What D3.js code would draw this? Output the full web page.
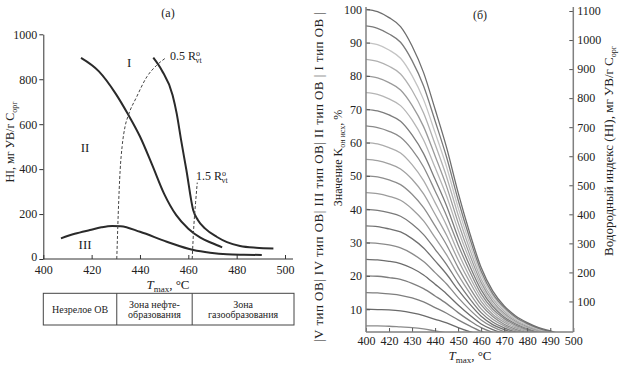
<!DOCTYPE html>
<html>
<head>
<meta charset="utf-8">
<script src="https://cdn.jsdelivr.net/npm/d3@7"></script>
<style>
  body { margin: 0; background: #fff; }
  svg { display: block; font-family: "Liberation Serif", "DejaVu Serif", serif; }
  svg text { font-family: "Liberation Serif", "DejaVu Serif", serif; }
</style>
</head>
<body>
<svg id="chart" width="621" height="367"></svg>
<script>
// ---- panel (a): HI vs Tmax ----
const xTicksL = [400, 420, 440, 460, 480, 500];
const yTicksL = [0, 200, 400, 600, 800, 1000];

// [Tmax, HI]
const curveI = [[445.5, 896], [449, 840], [453.5, 729], [455.2, 647], [457, 530], [459.2, 396],
  [462, 218], [464, 173], [467, 135], [471.7, 99], [476, 75], [481.4, 58], [488, 50], [495.2, 47]];
const curveII = [[415.6, 895], [423, 835], [430, 735], [435, 645], [440, 545], [445, 420],
  [450, 290], [455, 195], [460, 135], [465, 95], [470, 70], [474, 52]];
const curveIII = [[407.3, 92], [413, 112], [419.3, 129], [424, 141], [428.5, 147], [432, 146],
  [440, 121], [451.1, 77], [462.1, 40], [469, 28], [475.9, 21], [483, 19], [490.4, 18]];
const dash05 = [[430.4, 0], [431, 200], [431.8, 396], [432.6, 500], [433.8, 588], [435.2, 640],
  [438.6, 721], [442.8, 810], [446.9, 862], [450.8, 896]];
const dash15 = [[461.6, 0], [462.3, 150], [463, 250], [463.7, 340]];

const zones = [["Незрелое ОВ"], ["Зона нефте-", "образования"], ["Зона", "газообразования"]];

// ---- panel (б): K vs Tmax ----
const xTicksR = [410, 420, 430, 440, 450, 460, 470, 480, 490, 500];
const xLabelsR = ["400", "420", "430", "440", "450", "460", "470", "480", "490", "500"];
const yTicksR = [10, 20, 30, 40, 50, 60, 70, 80, 90, 100];
const hiTicksR = [100, 200, 300, 400, 500, 600, 700, 800, 900, 1000, 1100];

const tGrid = [410, 415, 420, 425, 430, 435, 440, 445, 450, 455, 460, 465, 470, 475, 480, 485, 490, 495, 500];
const k100 = [100, 99.3, 97.5, 94.8, 89, 81, 70, 58.5, 45, 33, 22.5, 15.5, 11, 8, 6, 4.5, 3.5, 2.5, 2];
const k95 = [95, 94.3, 92.6, 90.1, 84.6, 77, 66.5, 55.6, 42.8, 31.4, 21.4, 14.7, 10.5, 7.6, 5.7, 4.3, 3.3, 2.4, 1.9];
const k90 = [90, 89.4, 87.8, 85.3, 80.1, 72.9, 63, 52.7, 40.5, 29.7, 20.3, 14, 9.9, 7.2, 5.4, 4.1, 3.2, 2.3, 1.8];
const k85 = [85, 84.4, 82.9, 80.6, 75.7, 68.9, 59.5, 49.7, 38.3, 28.1, 19.1, 13.2, 9.4, 6.8, 5.1, 3.8, 3, 2.1, 1.7];
const k80 = [80, 79.4, 78, 75.8, 71.2, 64.8, 56, 46.8, 36, 26.4, 18, 12.4, 8.8, 6.4, 4.8, 3.6, 2.8, 2, 1.6];
const k75 = [75, 74.5, 73.1, 71.1, 66.8, 60.8, 52.5, 43.9, 33.8, 24.8, 16.9, 11.6, 8.3, 6, 4.5, 3.4, 2.6, 1.9, 1.5];
const k70 = [70, 69.5, 68.3, 66.4, 62.3, 56.7, 49, 41, 31.5, 23.1, 15.8, 10.9, 7.7, 5.6, 4.2, 3.2, 2.5, 1.8, 1.4];
const k65 = [65, 64.5, 63.4, 61.6, 57.9, 52.7, 45.5, 38, 29.3, 21.5, 14.6, 10.1, 7.2, 5.2, 3.9, 2.9, 2.3, 1.6, 1.3];
const k60 = [60, 59.6, 58.5, 56.9, 53.4, 48.6, 42, 35.1, 27, 19.8, 13.5, 9.3, 6.6, 4.8, 3.6, 2.7, 2.1, 1.5, 1.2];
const k55 = [55, 54.6, 53.6, 52.1, 49, 44.6, 38.5, 32.2, 24.8, 18.2, 12.4, 8.5, 6.1, 4.4, 3.3, 2.5, 1.9, 1.4, 1.1];
const k50 = [50, 49.7, 48.8, 47.4, 44.5, 40.5, 35, 29.3, 22.5, 16.5, 11.3, 7.8, 5.5, 4, 3, 2.3, 1.8, 1.3, 1];
const k45 = [45, 44.7, 43.9, 42.7, 40.1, 36.5, 31.5, 26.3, 20.3, 14.9, 10.1, 7, 5, 3.6, 2.7, 2, 1.6, 1.1, 0.9];
const k40 = [40, 39.7, 39, 37.9, 35.6, 32.4, 28, 23.4, 18, 13.2, 9, 6.2, 4.4, 3.2, 2.4, 1.8, 1.4, 1, 0.8];
const k35 = [35, 34.8, 34.1, 33.2, 31.2, 28.4, 24.5, 20.5, 15.8, 11.6, 7.9, 5.4, 3.9, 2.8, 2.1, 1.6, 1.2, 0.9, 0.7];
const k30 = [30, 29.8, 29.3, 28.4, 26.7, 24.3, 21, 17.6, 13.5, 9.9, 6.8, 4.7, 3.3, 2.4, 1.8, 1.4, 1.1, 0.8, 0.6];
const k25 = [25, 24.8, 24.4, 23.7, 22.3, 20.3, 17.5, 14.6, 11.3, 8.3, 5.6, 3.9, 2.8, 2, 1.5, 1.1, 0.9, 0.6, 0.5];
const k20 = [20, 19.9, 19.5, 19, 17.8, 16.2, 14, 11.7, 9, 6.6, 4.5, 3.1, 2.2, 1.6, 1.2, 0.9, 0.7, 0.5, 0.4];
const k15 = [15, 14.9, 14.6, 14.2, 13.4, 12.2, 10.5, 8.8, 6.8, 5, 3.4, 2.3, 1.7, 1.2, 0.9, 0.7, 0.5, 0.4, 0.3];
const k10 = [10, 9.9, 9.8, 9.5, 8.9, 8.1, 7, 5.9, 4.5, 3.3, 2.3, 1.6, 1.1, 0.8, 0.6, 0.5, 0.4, 0.3, 0.2];
const k5 = [5, 5, 4.9, 4.7, 4.5, 4.1, 3.5, 2.9, 2.3, 1.7, 1.1, 0.8, 0.6, 0.4, 0.3, 0.2, 0.2, 0.1, 0.1];

const kSeries = [k5, k10, k15, k20, k25, k30, k35, k40, k45, k50, k55, k60, k65, k70, k75, k80, k85, k90, k95, k100];
const kGrays = ["#8a8a8a", "#6a6a6a", "#7e7e7e", "#7e7e7e", "#6c6c6c", "#8a8a8a", "#707070", "#7a7a7a", "#9c9c9c", "#8c8c8c",
  "#a0a0a0", "#acacac", "#8a8a8a", "#7c7c7c", "#b5b5b5", "#9a9a9a", "#b0b0b0", "#c4c4c4", "#7a7a7a", "#6e6e6e"];

const svg = d3.select("#chart");
const ink = "#222";
const serif = "Liberation Serif, DejaVu Serif, serif";

function styleTicks(g) {
  g.attr("font-family", serif);
  g.selectAll(".tick text").attr("font-size", 12).attr("fill", ink).style("font-family", serif);
}

// ================= panel (a) =================
const xL = d3.scaleLinear().domain([400, 500]).range([43.3, 285]);
const yL = d3.scaleLinear().domain([0, 1000]).range([259, 34.3]);
const gA = svg.append("g");

gA.append("g")
  .attr("transform", `translate(0,${yL(0)})`)
  .call(d3.axisBottom(xL).tickValues(xTicksL).tickFormat(d3.format("d"))
    .tickSizeInner(-4).tickSizeOuter(0).tickPadding(6))
  .call(g => g.select(".domain").remove())
  .call(styleTicks);
gA.append("line")
  .attr("x1", xL(400)).attr("x2", 293).attr("y1", yL(0)).attr("y2", yL(0));

gA.append("g")
  .attr("transform", `translate(${xL(400)},0)`)
  .call(d3.axisLeft(yL).tickValues(yTicksL).tickFormat(d3.format("d"))
    .tickSizeInner(4).tickSizeOuter(0).tickPadding(2))
  .call(styleTicks)
  .call(g => g.selectAll(".tick text").filter(d => d === 0).attr("dy", "0.15em"));

gA.selectAll("line, path").attr("stroke", "#333").attr("stroke-width", 1);

const lineL = d3.line().x(d => xL(d[0])).y(d => yL(d[1])).curve(d3.curveMonotoneX);

[curveI, curveII, curveIII].forEach(c => {
  gA.append("path").attr("d", lineL(c))
    .attr("fill", "none").attr("stroke", "#2a2a2a").attr("stroke-width", 2);
});
[dash05, dash15].forEach(c => {
  gA.append("path").attr("d", lineL(c))
    .attr("fill", "none").attr("stroke", "#444").attr("stroke-width", 1)
    .attr("stroke-dasharray", "3,2");
});

// region labels
[["I", 435.5, 853], ["II", 417.3, 476], ["III", 417.3, 44]].forEach(([t, x, y]) => {
  gA.append("text").attr("x", xL(x)).attr("y", yL(y)).attr("text-anchor", "middle")
    .attr("font-size", 13).attr("fill", ink).text(t);
});

function roLabel(g, x, y, num) {
  const t = g.append("text").attr("x", x).attr("y", y).attr("font-size", 12).attr("fill", ink);
  t.append("tspan").text(num + " R");
  t.append("tspan").attr("dy", -4).attr("font-size", 8).text("o");
  t.append("tspan").attr("dx", -4.5).attr("dy", 7).attr("font-size", 8).text("vt");
}
roLabel(gA, 170, 60, "0.5");
roLabel(gA, 196, 180, "1.5");

gA.append("text").attr("x", 168).attr("y", 17).attr("text-anchor", "middle")
  .attr("font-size", 12).attr("fill", ink).text("(a)");

// x title
const xtA = gA.append("text").attr("x", 168).attr("y", 289).attr("text-anchor", "middle")
  .attr("font-size", 13).attr("fill", ink);
xtA.append("tspan").attr("font-style", "italic").text("T");
xtA.append("tspan").attr("font-size", 9).attr("dy", 3).text("max");
xtA.append("tspan").attr("dy", -3).text(", °C");

// y title
const ytA = gA.append("text").attr("transform", "translate(14,142) rotate(-90)")
  .attr("text-anchor", "middle").attr("font-size", 12).attr("fill", ink);
ytA.append("tspan").text("HI, мг УВ/г C");
ytA.append("tspan").attr("font-size", 8).attr("dy", 3).text("орг");

// zone table
const tabEdges = [xL(400), xL(dash05[0][0]), xL(dash15[0][0]), 294];
const tabTop = 293.3, tabBot = 325;
gA.append("rect").attr("x", tabEdges[0]).attr("y", tabTop)
  .attr("width", tabEdges[3] - tabEdges[0]).attr("height", tabBot - tabTop)
  .attr("fill", "none").attr("stroke", "#444").attr("stroke-width", 1);
[tabEdges[1], tabEdges[2]].forEach(x => {
  gA.append("line").attr("x1", x).attr("x2", x).attr("y1", tabTop).attr("y2", tabBot)
    .attr("stroke", "#444").attr("stroke-width", 1);
});
zones.forEach((lines, i) => {
  const cx = (tabEdges[i] + tabEdges[i + 1]) / 2;
  const cy = (tabTop + tabBot) / 2;
  lines.forEach((s, j) => {
    gA.append("text").attr("x", cx).attr("y", cy + 3.5 + (j - (lines.length - 1) / 2) * 10)
      .attr("text-anchor", "middle").attr("font-size", 10).attr("fill", ink).text(s);
  });
});

// ================= panel (б) =================
const xR = d3.scaleLinear().domain([410, 500]).range([366, 573.3]);
const yR = d3.scaleLinear().domain([0, 100]).range([342.6, 9.3]);
const yH = d3.scaleLinear().domain([0, 1100]).range([330.5, 11]);
const axisBot = 332, axisTop = 7;
const gB = svg.append("g");
const axisGray = "#808080";

svg.append("defs").append("clipPath").attr("id", "clipR")
  .append("rect").attr("x", xR(410)).attr("y", axisTop)
  .attr("width", xR(500) - xR(410)).attr("height", axisBot - axisTop);

const lineR = d3.line().x((d, i) => xR(tGrid[i])).y(d => yR(d)).curve(d3.curveMonotoneX);
gB.append("g").attr("clip-path", "url(#clipR)")
  .selectAll("path").data(kSeries).join("path")
  .attr("d", lineR)
  .attr("fill", "none")
  .attr("stroke", (d, i) => kGrays[i])
  .attr("stroke-width", 1.3);

gB.append("g")
  .attr("transform", `translate(0,${axisBot})`)
  .call(d3.axisBottom(xR).tickValues(xTicksR).tickFormat((d, i) => xLabelsR[i])
    .tickSizeInner(-4).tickSizeOuter(0).tickPadding(4))
  .call(styleTicks);
gB.append("g")
  .attr("transform", `translate(${xR(410)},0)`)
  .call(d3.axisLeft(yR).tickValues(yTicksR).tickFormat(d3.format("d"))
    .tickSizeInner(-4).tickSizeOuter(0).tickPadding(4))
  .call(styleTicks);
gB.append("g")
  .attr("transform", `translate(${xR(500)},0)`)
  .call(d3.axisRight(yH).tickValues(hiTicksR).tickFormat(d3.format("d"))
    .tickSizeInner(-4).tickSizeOuter(0).tickPadding(4))
  .call(styleTicks);
gB.selectAll(".domain").remove();

[[xR(410), axisBot, xR(500), axisBot], [xR(410), axisBot, xR(410), axisTop], [xR(500), axisBot, xR(500), axisTop]]
  .forEach(([x1, y1, x2, y2]) => {
    gB.append("line").attr("x1", x1).attr("y1", y1).attr("x2", x2).attr("y2", y2)
      .attr("stroke", axisGray).attr("stroke-width", 1.5);
  });
gB.selectAll(".tick line").attr("stroke", "#555").attr("stroke-width", 1);

gB.append("text").attr("x", 480).attr("y", 19).attr("text-anchor", "middle")
  .attr("font-size", 12).attr("fill", ink).text("(б)");

const xtB = gB.append("text").attr("x", 470).attr("y", 360).attr("text-anchor", "middle")
  .attr("font-size", 13).attr("fill", ink);
xtB.append("tspan").attr("font-style", "italic").text("T");
xtB.append("tspan").attr("font-size", 9).attr("dy", 3).text("max");
xtB.append("tspan").attr("dy", -3).text(", °C");

gB.append("text").attr("transform", "translate(323,177) rotate(-90)")
  .attr("text-anchor", "middle").attr("font-size", 13).attr("fill", ink)
  .attr("textLength", 330).attr("lengthAdjust", "spacing")
  .text("|V тип ОВ| IV тип ОВ| III тип ОВ| II тип ОВ | I тип ОВ |");

const ytB = gB.append("text").attr("transform", "translate(342,158) rotate(-90)")
  .attr("text-anchor", "middle").attr("font-size", 12).attr("fill", ink);
ytB.append("tspan").text("Значение K");
ytB.append("tspan").attr("font-size", 8).attr("dy", 3).text("он исх");
ytB.append("tspan").attr("dy", -3).text(", %");

const ytH = gB.append("text").attr("transform", "translate(613,151) rotate(-90)")
  .attr("text-anchor", "middle").attr("font-size", 13).attr("fill", ink);
ytH.append("tspan").text("Водородный индекс (HI), мг УВ/г C");
ytH.append("tspan").attr("font-size", 8).attr("dy", 3).text("орг");
</script>
</body>
</html>
